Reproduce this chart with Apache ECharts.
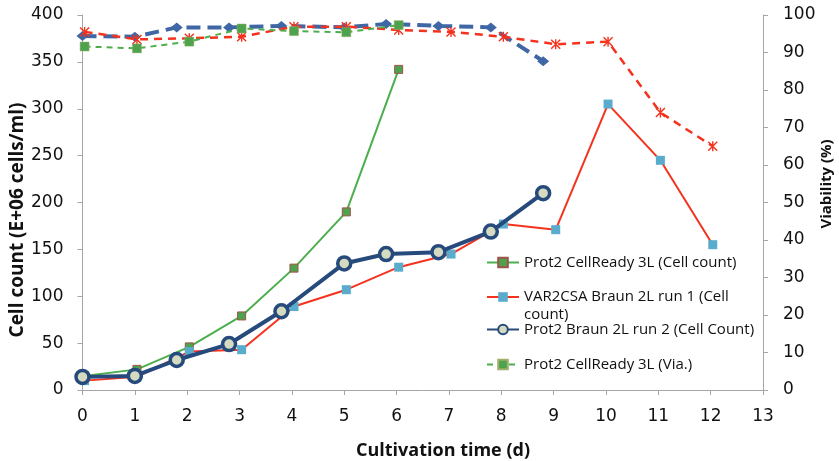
<!DOCTYPE html>
<html>
<head>
<meta charset="utf-8">
<script src="https://cdn.jsdelivr.net/npm/echarts@6/dist/echarts.min.js"></script>
<style>
  html, body { margin: 0; padding: 0; background: #fff; }
  #chart { width: 839px; height: 461px; }
</style>
</head>
<body>
<div id="chart"></div>
<script>
// Cultivation days and measurements per bioreactor run
const readyDays  = [0.04, 1.04, 2.04, 3.04, 4.04, 5.04, 6.04];
const readyCount = [15, 22, 46, 79, 130, 190, 342];
const readyVia   = [91.6, 91.1, 92.9, 96.4, 95.7, 95.4, 97.3];

const var2Days  = [0.04, 1.04, 2.04, 3.04, 4.04, 5.04, 6.04, 7.04, 8.04, 9.04, 10.04, 11.04, 12.04];
const var2Count = [10, 14, 41, 43, 89, 107, 131, 145, 177, 171, 305, 245, 155];
const var2Via   = [95.5, 93.5, 93.8, 94.2, 96.9, 96.9, 96.0, 95.5, 94.2, 92.2, 92.9, 74.0, 65.0];

const run2Days  = [0, 1, 1.8, 2.8, 3.8, 5, 5.8, 6.8, 7.8, 8.8];
const run2Count = [14, 15, 32, 49, 84, 135, 145, 147, 169, 210];
const run2Via   = [94.4, 94.2, 96.7, 96.7, 97.1, 96.7, 97.6, 97.1, 96.7, 87.7];

const seriesNames = [
  'Prot2 CellReady 3L (Cell count)',
  'VAR2CSA Braun 2L run 1 (Cell count)',
  'Prot2 Braun 2L run 2 (Cell Count)',
  'Prot2 CellReady 3L (Via.)',
  'VAR2CSA Braun 2L run 1 (Via.)',
  'Prot2 Braun 2L run 2 (Via.)'
];

const xTitle = 'Cultivation time (d)';
const yTitle = 'Cell count (E+06 cells/ml)';
const y2Title = 'Viability (%)';

const pair = (xs, ys) => xs.map((x, i) => [x, ys[i]]);

// asterisk marker: two diagonal bars plus a vertical bar
const starPath = 'path://M0,1L1,0L10,9L9,10Z M9,0L10,1L1,10L0,9Z M4.3,0L5.7,0L5.7,10L4.3,10Z';

const tickFont = { fontFamily: 'DejaVu Sans', fontSize: 17, color: '#111' };
const axisLine = { show: true, lineStyle: { color: '#a6a6a6', width: 1 } };
const axisTick = { show: true, length: 5, lineStyle: { color: '#a6a6a6' } };
const legendFont = { fontFamily: 'Open Sans', fontSize: 15, color: '#111' };

const chart = echarts.init(document.getElementById('chart'), null, { renderer: 'canvas' });

const legendBase = {
  orient: 'vertical',
  left: 486,
  padding: 0,
  itemWidth: 32,
  itemHeight: 12,
  itemGap: 0,
  selectedMode: false,
  textStyle: legendFont
};

chart.setOption({
  animation: false,
  backgroundColor: '#fff',
  grid: { left: 82.5, right: 76, top: 15, bottom: 71 },
  xAxis: {
    type: 'value', min: 0, max: 13, interval: 1,
    axisLine: axisLine, axisTick: axisTick,
    axisLabel: Object.assign({ margin: 18 }, tickFont),
    splitLine: { show: false }
  },
  yAxis: [
    {
      type: 'value', min: 0, max: 400, interval: 50, position: 'left',
      axisLine: axisLine, axisTick: axisTick,
      axisLabel: Object.assign({ margin: 19 }, tickFont),
      splitLine: { show: false }
    },
    {
      type: 'value', min: 0, max: 100, interval: 10, position: 'right',
      axisLine: axisLine, axisTick: axisTick,
      axisLabel: Object.assign({ margin: 20 }, tickFont),
      splitLine: { show: false }
    }
  ],
  legend: [
    Object.assign({}, legendBase, { top: 255, data: [seriesNames[0]] }),
    Object.assign({}, legendBase, {
      top: 270, data: [seriesNames[1]],
      // blank first line keeps the icon level with the first text line
      formatter: () => ' \nVAR2CSA Braun 2L run 1 (Cell\ncount)',
      textStyle: Object.assign({ lineHeight: 18 }, legendFont)
    }),
    Object.assign({}, legendBase, { top: 322, data: [seriesNames[2]] }),
    Object.assign({}, legendBase, { top: 357, data: [seriesNames[3]] })
  ],
  graphic: [
    {
      type: 'text', x: 18, y: 220, rotation: Math.PI / 2,
      style: { text: yTitle, align: 'center', verticalAlign: 'middle',
               font: 'bold 19px "Open Sans"', fill: '#111' }
    },
    {
      type: 'text', x: 827, y: 184, rotation: Math.PI / 2,
      style: { text: y2Title, align: 'center', verticalAlign: 'middle',
               font: 'bold 15px "Open Sans"', fill: '#111' }
    },
    {
      type: 'text', x: 443, y: 451,
      style: { text: xTitle, align: 'center', verticalAlign: 'middle',
               font: 'bold 18px "Open Sans"', fill: '#111' }
    }
  ],
  series: [
    {
      name: seriesNames[0], type: 'line', yAxisIndex: 0,
      data: pair(readyDays, readyCount),
      symbol: 'rect', symbolSize: 8,
      lineStyle: { color: '#4cae4c', width: 2 },
      itemStyle: { color: '#4ea24e', borderColor: '#a0524c', borderWidth: 1 },
      z: 2
    },
    {
      name: seriesNames[1], type: 'line', yAxisIndex: 0,
      data: pair(var2Days, var2Count),
      symbol: 'rect', symbolSize: 9,
      lineStyle: { color: '#f5321e', width: 2 },
      itemStyle: { color: '#5aaccc', borderWidth: 0 },
      z: 3
    },
    {
      name: seriesNames[2], type: 'line', yAxisIndex: 0,
      data: pair(run2Days, run2Count),
      symbol: 'circle', symbolSize: 13,
      lineStyle: { color: '#264a7c', width: 4 },
      itemStyle: { color: '#d5dbc0', borderColor: '#264a7c', borderWidth: 3.5 },
      z: 4
    },
    {
      name: seriesNames[5], type: 'line', yAxisIndex: 1,
      data: pair(run2Days, run2Via),
      symbol: 'diamond', symbolSize: [12, 10],
      lineStyle: { color: '#3f67a5', width: 4, type: [14, 7] },
      itemStyle: { color: '#3f67a5', borderWidth: 0 },
      z: 5
    },
    {
      name: seriesNames[4], type: 'line', yAxisIndex: 1,
      data: pair(var2Days, var2Via),
      symbol: starPath, symbolSize: 10,
      lineStyle: { color: '#f5321e', width: 2.5, type: [8, 6] },
      itemStyle: { color: '#f5321e', borderWidth: 0 },
      z: 6
    },
    {
      name: seriesNames[3], type: 'line', yAxisIndex: 1,
      data: pair(readyDays, readyVia),
      symbol: 'rect', symbolSize: 9,
      lineStyle: { color: '#4cae4c', width: 2, type: [6, 5] },
      itemStyle: { color: '#4ea24e', borderColor: '#9fb06a', borderWidth: 0.5 },
      z: 7
    }
  ]
});
</script>
</body>
</html>
